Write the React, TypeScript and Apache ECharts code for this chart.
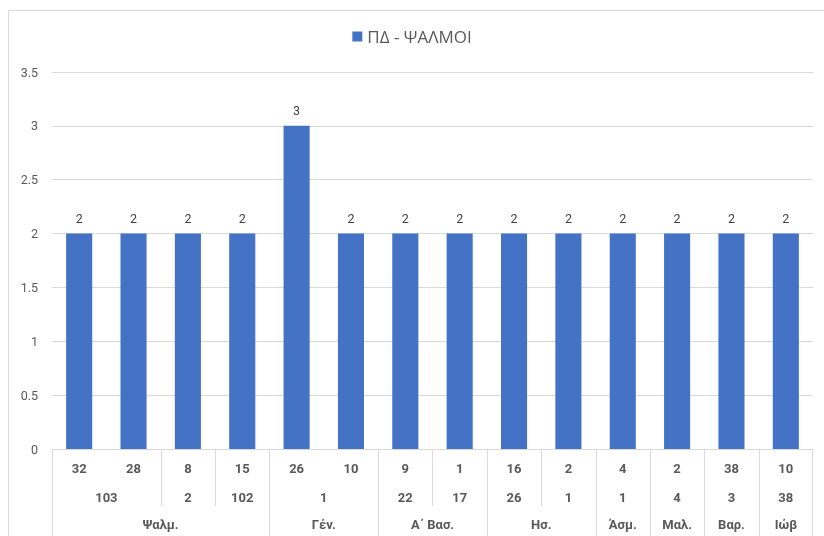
import React, { useEffect, useRef } from "react";
import * as echarts from "echarts";

const verses = ["32", "28", "8", "15", "26", "10", "9", "1", "16", "2", "4", "2", "38", "10"];
const chapters = ["103", "103", "2", "102", "1", "1", "22", "17", "26", "1", "1", "4", "3", "38"];
const books = ["Ψαλμ.", "Ψαλμ.", "Ψαλμ.", "Ψαλμ.", "Γέν.", "Γέν.", "Α΄ Βασ.", "Α΄ Βασ.", "Ησ.", "Ησ.", "Άσμ.", "Μαλ.", "Βαρ.", "Ιώβ"];
const values = [2, 2, 2, 2, 3, 2, 2, 2, 2, 2, 2, 2, 2, 2];
const seriesName = "ΠΔ - ΨΑΛΜΟΙ";
const yMin = 0;
const yMax = 3.5;
const yInterval = 0.5;

const FONT = "Roboto, 'Noto Sans', sans-serif";
const GRID_COLOR = "#d9d9d9";
const TEXT_COLOR = "#595959";

function groups(keys: string[]) {
  const out: { start: number; end: number; idx: number }[] = [];
  let s = 0;
  for (let i = 1; i <= keys.length; i++) {
    if (i === keys.length || keys[i] !== keys[s]) {
      out.push({ start: s, end: i - 1, idx: s });
      s = i;
    }
  }
  return out;
}

export default function App() {
  const ref = useRef<HTMLDivElement>(null);
  useEffect(() => {
    const chart = echarts.init(ref.current!, undefined, { renderer: "svg" });
    const cats = verses.map((v, i) => `${books[i]} ${chapters[i]}:${v}`);
    chart.setOption({
      animation: false,
      textStyle: { fontFamily: FONT },
      legend: {
        top: 23,
        left: "center",
        icon: "rect",
        itemWidth: 10,
        itemHeight: 10,
        itemGap: 6,
        textStyle: { color: TEXT_COLOR, fontSize: 17, fontFamily: "'Open Sans', sans-serif" },
        data: [seriesName],
      },
      grid: { left: 52, right: 11, top: 72, bottom: 87 },
      xAxis: {
        type: "category",
        data: cats,
        axisLine: { show: true, lineStyle: { color: GRID_COLOR } },
        axisTick: { show: false },
        axisLabel: { show: false },
      },
      yAxis: {
        type: "value",
        min: yMin,
        max: yMax,
        interval: yInterval,
        axisLine: { show: false },
        axisTick: { show: false },
        axisLabel: { color: TEXT_COLOR, fontSize: 12.5, margin: 14, fontFamily: FONT },
        splitLine: { lineStyle: { color: GRID_COLOR } },
      },
      series: [
        {
          name: seriesName,
          type: "bar",
          data: values,
          barWidth: "48%",
          itemStyle: { color: "#4472c4" },
          label: { show: true, position: "top", distance: 9, color: "#404040", fontSize: 12.5, fontFamily: FONT },
        },
      ],
    });

    const cx = (i: number) => chart.convertToPixel({ xAxisIndex: 0 }, i) as number;
    const bw = cx(1) - cx(0);
    const y0 = Math.round(chart.convertToPixel({ yAxisIndex: 0 }, 0) as number);
    const bottom = 540;
    const rows = [y0 + 19, y0 + 48, y0 + 75];
    const g: any[] = [];
    g.push({
      type: "rect",
      shape: { x: 8.5, y: 10.5, width: 830, height: 540 },
      style: { fill: "none", stroke: GRID_COLOR, lineWidth: 1 },
      silent: true,
    });
    const textEl = (x: number, y: number, t: string) => ({
      type: "text",
      x,
      y,
      style: { text: t, fill: TEXT_COLOR, font: `bold 13px ${FONT}`, align: "center", verticalAlign: "middle" },
      silent: true,
    });
    const vline = (x: number, y1: number, y2: number) => ({
      type: "line",
      shape: { x1: Math.round(x) + 0.5, y1, x2: Math.round(x) + 0.5, y2 },
      style: { stroke: GRID_COLOR, lineWidth: 1 },
      silent: true,
    });
    // level 1
    verses.forEach((v, i) => g.push(textEl(cx(i), rows[0], v)));
    // level 2
    const chapKeys = chapters.map((c, i) => books[i] + "|" + c);
    const chapGroups = groups(chapKeys);
    chapGroups.forEach((gr) => {
      const mid = (cx(gr.start) + cx(gr.end)) / 2;
      g.push(textEl(mid, rows[1], chapters[gr.idx]));
      if (gr.start > 0) g.push(vline(cx(gr.start) - bw / 2, y0, y0 + 57));
    });
    // level 3
    const bookGroups = groups(books);
    bookGroups.forEach((gr) => {
      const mid = (cx(gr.start) + cx(gr.end)) / 2;
      g.push(textEl(mid, rows[2], books[gr.idx]));
      g.push(vline(cx(gr.start) - bw / 2, y0, bottom));
    });
    g.push(vline(cx(verses.length - 1) + bw / 2 - 1, y0, bottom));
    chart.setOption({ graphic: g });

    return () => chart.dispose();
  }, []);
  return <div ref={ref} style={{ position: "fixed", left: 0, top: 0, width: 824, height: 536 }} />;
}
